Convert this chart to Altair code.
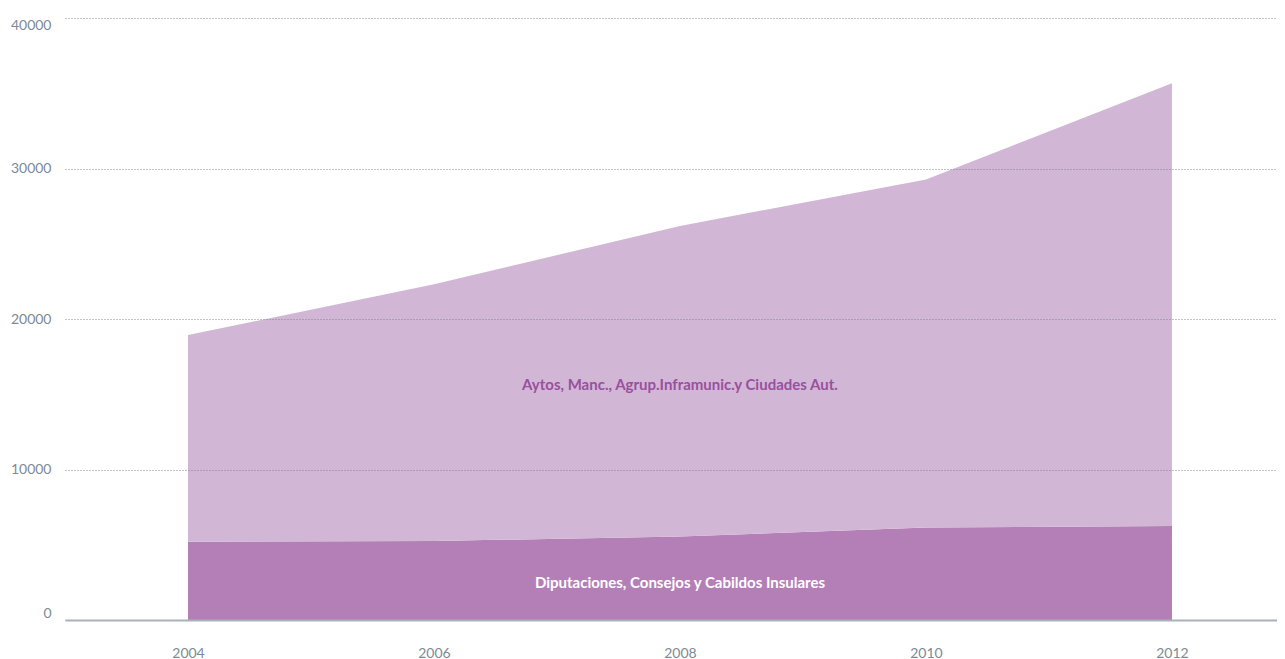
import altair as alt
import pandas as pd

# ---- data ----
years = [2004, 2006, 2008, 2010, 2012]
diputaciones = [5200, 5250, 5550, 6150, 6250]
aytos = [13730, 17060, 20630, 23120, 29410]

series_names = [
    "Diputaciones, Consejos y Cabildos Insulares",
    "Aytos, Manc., Agrup.Inframunic.y Ciudades Aut.",
]
series_colors = ["#b47fb7", "#d2b6d6"]
label_colors = ["#ffffff", "#9a4f9f"]
label_year = [2008, 2008]
label_value = [2450, 15600]

y_ticks = [0, 10000, 20000, 30000, 40000]
x_ticks = [2004, 2006, 2008, 2010, 2012]

FONT = "Lato"

rows = []
for i, y in enumerate(years):
    rows.append({"year": y, "value": diputaciones[i], "series": series_names[0], "order": 0})
    rows.append({"year": y, "value": aytos[i], "series": series_names[1], "order": 1})
df = pd.DataFrame(rows)

labels = pd.DataFrame({
    "year": label_year,
    "value": label_value,
    "text": series_names,
    "color": label_colors,
})

x_scale = alt.Scale(domain=[2003, 2012.854], nice=False, zero=False)
y_scale = alt.Scale(domain=[0, 40000], nice=False)

area = alt.Chart(df).mark_area(interpolate="linear").encode(
    x=alt.X("year:Q", scale=x_scale,
            axis=alt.Axis(values=x_ticks, format="d", grid=False, ticks=False,
                          domainColor="#a9b2bb", domainWidth=2, labelPadding=26,
                          labelFlush=False, labelFont=FONT, labelFontSize=14,
                          labelColor="#7d8a96", title=None, zindex=1)),
    y=alt.Y("value:Q", stack="zero", scale=y_scale,
            axis=alt.Axis(values=y_ticks, format="d", domain=False, ticks=False,
                          grid=True, gridDash=[1, 2], gridColor="#7f8993", gridWidth=1,
                          labelPadding=14, labelFlush=True, labelFont=FONT,
                          labelFontSize=14, labelColor="#7d8a96", title=None, zindex=1)),
    color=alt.Color("series:N", scale=alt.Scale(domain=series_names, range=series_colors), legend=None),
    order=alt.Order("order:Q"),
)

text = alt.Chart(labels).mark_text(fontWeight="bold", font=FONT, fontSize=15).encode(
    x=alt.X("year:Q", scale=x_scale),
    y=alt.Y("value:Q", scale=y_scale),
    text="text:N",
    color=alt.Color("color:N", scale=None),
)

chart = alt.layer(area, text).resolve_scale(color="independent").properties(
    width=1212,
    height=602,
    autosize=alt.AutoSizeParams(type="none"),
    padding={"left": 57, "top": 10, "right": 0, "bottom": 39},
).configure_view(stroke=None)

chart.save("out.html", embed_options={"renderer": "svg", "actions": False})
